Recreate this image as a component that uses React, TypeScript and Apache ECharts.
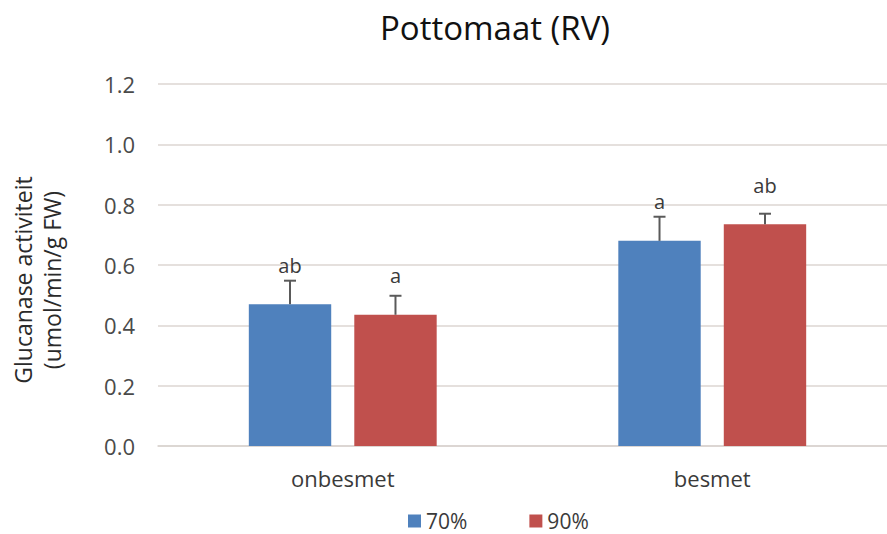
import React, { useEffect, useRef } from "react";
import * as echarts from "echarts";

const categories = ["onbesmet", "besmet"];
const seriesNames = ["70%", "90%"];
const values70 = [0.47, 0.68];
const values90 = [0.435, 0.735];
const errors70 = [0.078, 0.08];
const errors90 = [0.063, 0.035];
const letters70 = ["ab", "a"];
const letters90 = ["a", "ab"];
const yTicks = [0, 0.2, 0.4, 0.6, 0.8, 1.0, 1.2];

const colors = ["#4f81bd", "#c0504d"];
const FONT = "'Open Sans', 'Noto Sans', sans-serif";
const BAR_FRAC = 0.223;
const GAP_FRAC = 0.28;

export default function App() {
  const ref = useRef<HTMLDivElement>(null);
  useEffect(() => {
    if (!ref.current) return;
    const chart = echarts.init(ref.current, null, { renderer: "svg" });
    const valueSets = [values70, values90];
    const errorSets = [errors70, errors90];
    const letterSets = [letters70, letters90];

    const barSeries = valueSets.map((vals, si) => ({
      name: seriesNames[si],
      type: "bar",
      data: vals,
      barWidth: (BAR_FRAC * 100).toFixed(1) + "%",
      barGap: GAP_FRAC * 100 + "%",
      itemStyle: { color: colors[si] },
      label: {
        show: true,
        position: "top",
        distance: 29,
        formatter: (p: any) => letterSets[si][p.dataIndex],
        color: "#3a3a3a",
        fontSize: 20,
        fontFamily: FONT,
      },
    }));

    const errSeries = valueSets.map((vals, si) => ({
      name: seriesNames[si] + "-err",
      type: "custom",
      silent: true,
      z: 5,
      data: vals.map((v, i) => [i, v, v + errorSets[si][i]]),
      renderItem: (params: any, api: any) => {
        const ci = api.value(0);
        const base = api.coord([ci, api.value(1)]);
        const top = api.coord([ci, api.value(2)]);
        const band = api.size([1, 0])[0];
        const bw = band * BAR_FRAC;
        const gap = bw * GAP_FRAC;
        const off = (si === 0 ? -1 : 1) * (bw + gap) / 2;
        const x = base[0] + off;
        const cap = 6;
        const style = { stroke: "#5a5a5a", lineWidth: 2, fill: "none" };
        return {
          type: "group",
          children: [
            { type: "line", shape: { x1: x, y1: base[1], x2: x, y2: top[1] }, style },
            { type: "line", shape: { x1: x - cap, y1: top[1], x2: x + cap, y2: top[1] }, style },
          ],
        };
      },
    }));

    chart.setOption({
      animation: false,
      backgroundColor: "#ffffff",
      title: {
        text: "Pottomaat (RV)",
        left: 490,
        textAlign: "center",
        top: 6,
        textStyle: { fontFamily: FONT, fontSize: 33, fontWeight: "normal", color: "#111111" },
      },
      legend: {
        data: seriesNames,
        left: 408,
        top: 510,
        padding: 0,
        itemWidth: 13,
        itemHeight: 13,
        itemGap: 62,
        icon: "rect",
        textStyle: { fontFamily: FONT, fontSize: 21, lineHeight: 22, color: "#3a3a3a" },
      },
      grid: { left: 158, right: 0, top: 84, bottom: 88 },
      xAxis: {
        type: "category",
        data: categories,
        axisLine: { lineStyle: { color: "#d9d3cf", width: 1.5 } },
        axisTick: { show: false },
        axisLabel: { margin: 21, fontFamily: FONT, fontSize: 22, color: "#3a3a3a" },
      },
      yAxis: {
        type: "value",
        min: 0,
        max: 1.2,
        interval: 0.2,
        axisLine: { show: false },
        axisTick: { show: false },
        splitLine: { lineStyle: { color: "#ddd6d2", width: 1.5 } },
        axisLabel: {
          margin: 23,
          fontFamily: FONT,
          fontSize: 22,
          color: "#4a4a4a",
          formatter: (v: number) => (yTicks.includes(Math.round(v * 10) / 10) ? v.toFixed(1) : ""),
        },
      },
      graphic: [
        {
          type: "text",
          x: 37,
          y: 280,
          rotation: Math.PI / 2,
          style: {
            text: "Glucanase activiteit\n(umol/min/g FW)",
            fontFamily: FONT,
            fontSize: 23,
            lineHeight: 29,
            fill: "#2a2a2a",
            align: "center",
            verticalAlign: "middle",
          },
        },
      ],
      series: [...barSeries, ...errSeries],
    });
    return () => chart.dispose();
  }, []);
  return (
    <div style={{ width: 887, height: 534, overflow: "hidden", position: "absolute", left: 0, top: 0 }}>
      <div ref={ref} style={{ width: 897, height: 534 }} />
    </div>
  );
}
